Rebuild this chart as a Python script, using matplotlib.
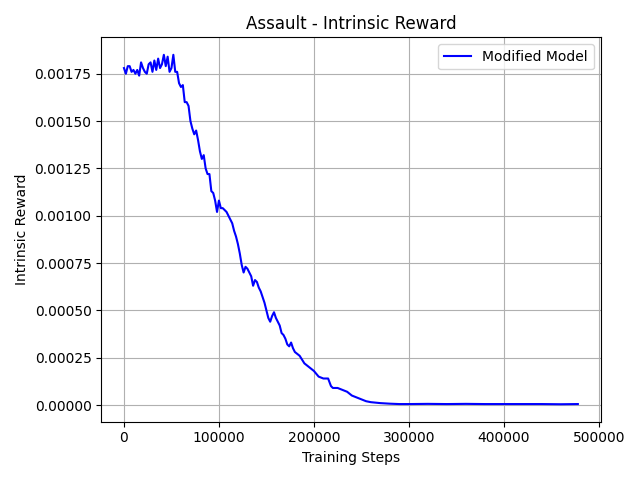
import matplotlib
matplotlib.use("Agg")
import matplotlib.pyplot as plt
import numpy as np

# training steps and intrinsic reward (x1e-5)
steps = [0, 2000, 4000, 6000, 8000, 10000, 12000, 14000, 16000, 18000, 20000, 22000, 24000, 26000,
         28000, 30000, 32000, 34000, 36000, 38000, 40000, 42000, 44000, 46000, 48000, 50000, 52000,
         54000, 56000, 58000, 60000, 62000, 64000, 66000, 68000, 70000, 72000, 74000, 76000, 78000,
         80000, 82000, 84000, 86000, 88000, 90000, 92000, 94000, 96000, 98000, 100000, 102000,
         104000, 106000, 108000, 110000, 112000, 114000, 116000, 118000, 120000, 122000, 124000,
         126000, 128000, 130000, 132000, 134000, 136000, 138000, 140000, 142000, 144000, 146000,
         148000, 150000, 152000, 154000, 156000, 158000, 160000, 162000, 164000, 166000, 168000,
         170000, 172000, 174000, 176000, 178000, 180000, 185000, 190000, 195000, 200000, 205000,
         210000, 215000, 218000, 220000, 225000, 230000, 235000, 240000, 245000, 250000, 255000,
         260000, 270000, 280000, 290000, 300000, 320000, 340000, 360000, 380000, 400000, 420000,
         440000, 460000, 478000]
reward_e5 = [178, 175, 179, 179, 176, 177, 175, 177, 174, 181, 178, 176, 175, 180,
             181, 176, 182, 177, 183, 178, 180, 185, 179, 184, 176, 178, 185,
             176, 176, 170, 168, 169, 160, 160, 158, 150, 146, 143, 145, 140,
             134, 130, 132, 125, 122, 122, 113, 112, 108, 102, 108, 104,
             104, 103, 102, 100, 98, 96, 92, 89, 85, 80, 74,
             70, 73, 72, 70, 68, 63, 66, 65, 62, 60, 57,
             54, 50, 46, 44, 47, 49, 46, 44, 42, 38, 37,
             35, 32, 31, 33, 30, 28, 26, 22, 20, 18, 15,
             14, 14, 10, 9, 9, 8, 7, 5, 4, 3, 2,
             1.5, 1, 0.7, 0.5, 0.5, 0.6, 0.5, 0.6, 0.5, 0.5, 0.5,
             0.5, 0.4, 0.5]

reward = np.array(reward_e5) * 1e-5

fig, ax = plt.subplots(figsize=(6.4, 4.8), dpi=100)
ax.plot(steps, reward, color="blue", label="Modified Model")
ax.set_title("Assault - Intrinsic Reward")
ax.set_xlabel("Training Steps")
ax.set_ylabel("Intrinsic Reward")
ax.grid(True)
ax.legend(loc="upper right")
fig.tight_layout()
fig.savefig("out.png")
